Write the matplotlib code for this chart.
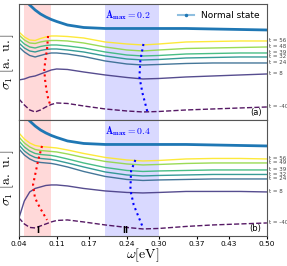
import numpy as np
import matplotlib
matplotlib.use("Agg")
import matplotlib.pyplot as plt
from matplotlib.lines import Line2D

plt.rcParams['mathtext.fontset'] = 'cm'

# frequency grid (eV)
omega = [0.04, 0.05, 0.06, 0.07, 0.08, 0.09, 0.10, 0.11, 0.13, 0.16,
         0.20, 0.24, 0.27, 0.30, 0.35, 0.40, 0.45, 0.50]

# normal state (same in both panels), arbitrary units
normal = [130, 121, 115, 110, 106, 103, 100.5, 98.5, 95, 92.5,
          91.5, 91.5, 91.5, 91.5, 91.5, 91, 90.5, 90]

# panel (a): A_max = 0.2
labels_a = ['56', '48', '39', '32', '24', '8', '-40']
sig_a = [
    [88, 83, 80, 79.5, 81.5, 83, 84, 84, 83.5, 82, 78, 76, 75, 76, 78, 78.5, 79, 79],
    [85, 80, 77, 76.5, 78, 79, 79.5, 79.5, 79, 77, 73, 70, 69, 70, 71.5, 72, 72.5, 73],
    [81, 76, 73, 72, 73.5, 74.5, 75, 75, 74, 72, 68, 65, 64, 64.5, 66, 66.5, 67, 67],
    [77, 72, 69, 68, 69.5, 70.5, 71, 71, 70, 68, 64, 61, 60, 60.5, 62, 62.5, 63, 63],
    [73, 68, 64.5, 63, 64.5, 66, 67, 67, 66, 63.5, 59, 56, 55, 55.5, 56.5, 57, 57, 57],
    [40, 41, 43, 44, 46, 48, 50, 51, 50.5, 48, 45, 42.5, 41, 41.5, 43, 44, 45, 46],
    [21, 15, 10, 8, 10, 13, 15.5, 17, 16.5, 14, 11, 9, 8, 8.5, 10, 11, 12, 13],
]
peak_a_w = [0.094, 0.093, 0.092, 0.089, 0.087, 0.0885, 0.091, 0.094, 0.098]
peak_a_s = [84, 77, 70, 60, 50, 40, 30, 22, 15]
dip_a_w = [0.271, 0.2653, 0.2635, 0.2691, 0.2784]
dip_a_s = [76, 60, 43, 27, 8]

# panel (b): A_max = 0.4
labels_b = ['56', '49', '39', '32', '24', '8', '-40']
sig_b = [
    [103, 97, 93, 90.5, 89.5, 89, 88.5, 88, 86, 82.5, 78.5, 76, 75, 75.5, 77, 77.5, 77.5, 77],
    [99, 93, 89, 86.5, 85.5, 85, 84.5, 84, 82, 78.5, 74.5, 72, 71, 71.5, 72.5, 73, 73, 73],
    [95, 89, 85, 82.5, 81.5, 81, 80.5, 79.5, 77, 73, 68.5, 65.5, 64.5, 65, 65.5, 66, 66, 66],
    [91, 85, 81, 78.5, 77.5, 77, 76.5, 75.5, 73, 69, 64, 61, 60, 60.5, 61, 61.5, 61.5, 61.5],
    [87, 81, 77, 74.5, 73.5, 73, 72.5, 71.5, 69, 64.5, 59.5, 56.5, 55.5, 56, 56.5, 57, 57, 57],
    [18, 35, 44, 47.5, 49, 50.5, 51, 51, 50, 47.5, 45, 43.5, 43, 43.5, 44.5, 44.5, 44.5, 44],
    [18, 12, 8.5, 8, 10, 12, 14, 15.5, 16, 14, 11, 8.5, 7, 7.5, 9.5, 11, 12, 13],
]
peak_b_w = [0.0828, 0.0754, 0.0661, 0.0698, 0.0791, 0.0921]
peak_b_s = [90, 75, 51, 38, 28, 16]
dip_b_w = [0.256, 0.248, 0.2467, 0.2529, 0.2703]
dip_b_s = [76, 65, 46, 31, 8]

ticks = [0.04, 0.11, 0.17, 0.24, 0.30, 0.37, 0.43, 0.50]
colors = plt.cm.viridis(np.linspace(1, 0, 7))

fig, axes = plt.subplots(2, 1, figsize=(2.87, 2.66), dpi=100, sharex=True)
fig.subplots_adjust(left=0.066, right=0.930, top=0.985, bottom=0.113, hspace=0)

panels = [
    (axes[0], sig_a, labels_a, peak_a_w, peak_a_s, dip_a_w, dip_a_s, '0.2', '(a)'),
    (axes[1], sig_b, labels_b, peak_b_w, peak_b_s, dip_b_w, dip_b_s, '0.4', '(b)'),
]

for ax, sig, labs, pw, ps, dw, ds, amax, tag in panels:
    ax.axvspan(0.05, 0.10, color='red', alpha=0.15, lw=0)
    ax.axvspan(0.20, 0.30, color='blue', alpha=0.15, lw=0)
    ax.plot(omega, normal, color='#1f77b4', lw=2)
    for i, (s, lab) in enumerate(zip(sig, labs)):
        ls = '--' if i == len(sig) - 1 else '-'
        ax.plot(omega, s, color=colors[i], lw=1, ls=ls, alpha=0.9)
        ax.text(0.503, s[-1], 't = ' + lab, fontsize=4, color='#444',
                va='center', ha='left', clip_on=False)
    ax.plot(pw, ps, color='red', ls=':', lw=1.5)
    ax.plot(dw, ds, color='blue', ls=':', lw=1.5)
    ax.text(0.242, 105, r'$\mathbf{A_{max}=' + amax + '}$', color='blue',
            fontsize=7, ha='center', va='center')
    ax.text(0.49, 3, tag, fontsize=6, ha='right', va='bottom')
    ax.set_xlim(0.04, 0.50)
    ax.set_ylim(0, 116)
    ax.set_yticks([])
    ax.set_ylabel(r'$\sigma_1\ [\mathrm{a.\ u.}]$', fontsize=10, labelpad=2)
    for sp in ax.spines.values():
        sp.set_color('#555')

# legend handle: light line with a dot, as in the original
handle = Line2D([0], [0], color='#8fbfe0', lw=1.5, marker='.', markersize=3,
                markerfacecolor='#1f77b4', markeredgecolor='#1f77b4')
axes[0].legend([handle], ['Normal state'], loc='upper right', fontsize=6.5,
               frameon=False, handlelength=1.8, borderpad=0.3)
axes[0].tick_params(axis='x', length=0)
axes[1].set_xticks(ticks)
axes[1].set_xticklabels([f'{t:.2f}' for t in ticks], fontsize=5.3)
axes[1].tick_params(axis='x', length=2, pad=1.5)
axes[1].set_xlabel(r'$\omega[\mathrm{eV}]$', fontsize=10, labelpad=0)
axes[1].text(0.074, 1, 'I', fontsize=6, fontweight='bold', ha='center', va='bottom')
axes[1].text(0.238, 1, 'II', fontsize=6, fontweight='bold', ha='center', va='bottom')

fig.savefig('out.png', dpi=100)
